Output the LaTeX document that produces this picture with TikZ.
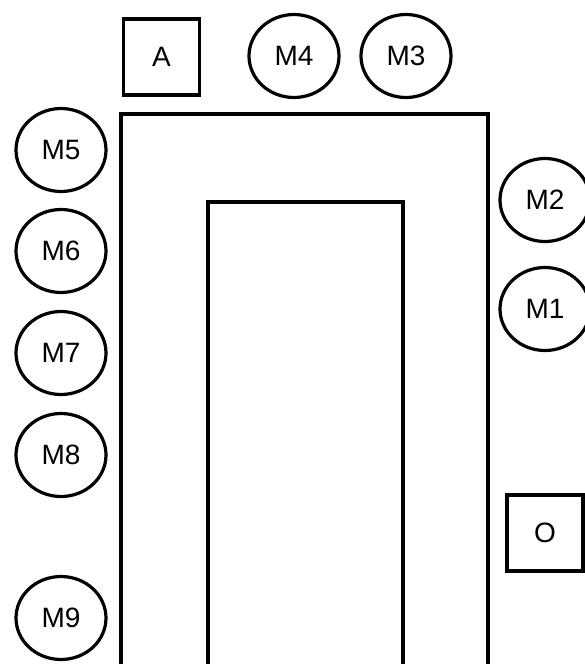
\documentclass[tikz,border=0pt]{standalone}
\usepackage{fontspec}
\setmainfont{Liberation Sans}
\usetikzlibrary{positioning, shapes.geometric}

\begin{document}
\begin{tikzpicture}[x=1pt,y=-1pt,on grid,line width=3.2pt,
       motor/.style={ellipse,draw,inner sep=0pt,minimum width=90pt,minimum height=83pt,font=\fontsize{28}{28}\selectfont},
       unit/.style={rectangle,draw,inner sep=0pt,minimum size=76pt,font=\fontsize{28}{28}\selectfont}]
       \useasboundingbox[clip] (0,0) rectangle (585,664);
       \fill[white] (0,0) rectangle (585,664);

       % top row
       \node[unit] (A) at (161.5,57) {A};
       \node[motor] (m4) at (294,56) {M4};
       \node[motor] (m3) [right=112pt of m4] {M3};

       % left column
       \node[motor] (m5) at (61,150) {M5};
       \node[motor] (m6) [below=101pt of m5] {M6};
       \node[motor] (m7) [below=102pt of m6] {M7};
       \node[motor] (m8) [below=102pt of m7] {M8};
       \node[motor] (m9) [below=163pt of m8] {M9};

       % right column
       \node[motor] (m2) at (545,200) {M2};
       \node[motor] (m1) [below=109pt of m2] {M1};
       \node[unit] (O) at (545,533) {O};

       % frames
       \draw (121,700) -- (121,114) -- (488,114) -- (488,700);
       \draw (208,700) -- (208,202) -- (403,202) -- (403,700);
    \end{tikzpicture}
\end{document}
